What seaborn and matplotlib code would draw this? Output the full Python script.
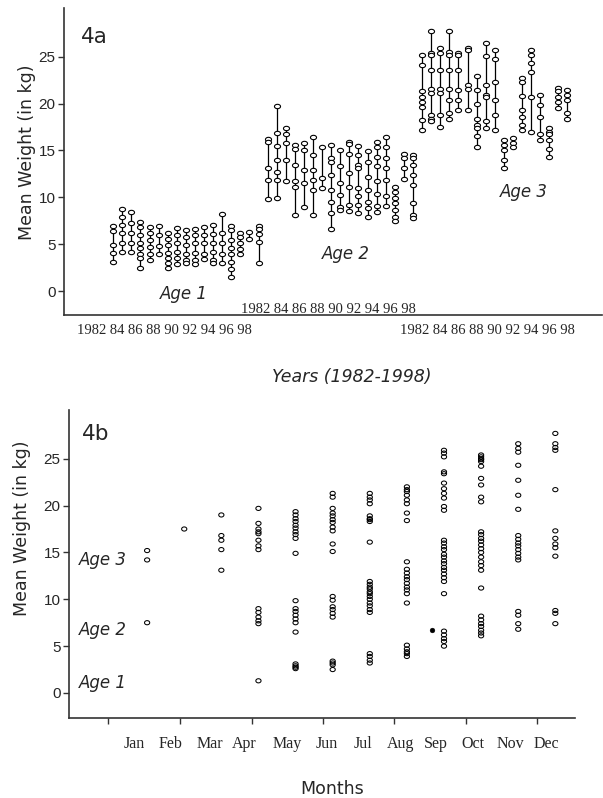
import numpy as np
import pandas as pd
import matplotlib
matplotlib.use("Agg")
import matplotlib.pyplot as plt
import seaborn as sns
from matplotlib.path import Path

# ---------------- data: panel 4a (yearly sets of monthly mean weights) ----------------
years = list(range(1982, 1999))
year_label = "1982 84 86 88 90 92 94 96 98"

age1 = [
    [6.9, 6.4, 4.9, 4.1, 3.1],
    [8.8, 7.9, 7.0, 6.2, 5.1, 4.2],
    [8.4, 7.3, 6.2, 5.1, 4.2],
    [7.4, 6.8, 6.0, 5.1, 4.6, 4.0, 3.5, 2.5],
    [6.8, 6.2, 5.4, 4.7, 4.0, 3.3],
    [6.9, 6.0, 4.8, 4.0],
    [6.2, 5.6, 4.9, 4.1, 3.5, 3.0, 2.5],
    [6.7, 6.0, 5.1, 4.2, 3.5, 2.9],
    [6.5, 5.8, 4.9, 4.0, 3.3, 2.95],
    [6.6, 6.0, 5.1, 4.1, 3.3, 2.9],
    [6.8, 6.0, 5.1, 4.0, 3.4],
    [7.0, 6.1, 5.1, 4.2, 3.3, 2.95],
    [8.2, 6.2, 5.1, 4.0, 3.0],
    [6.9, 6.5, 5.4, 4.6, 4.0, 3.1, 2.4, 1.5],
    [6.2, 5.8, 5.1, 4.5, 3.95],
    [6.3, 5.5],
    [6.9, 6.6, 6.1, 5.2, 3.0],
]
age2 = [
    [16.2, 15.9, 13.1, 11.8, 9.8],
    [19.7, 16.9, 15.5, 14.0, 12.7, 11.8, 9.9],
    [17.4, 16.8, 15.8, 14.0, 11.7],
    [15.6, 15.2, 13.4, 11.7, 11.1, 8.1],
    [15.8, 15.0, 12.9, 11.5, 9.0],
    [16.4, 14.5, 12.9, 11.8, 10.8, 8.1],
    [15.4, 12.1, 11.0],
    [15.6, 14.2, 13.8, 12.4, 10.8, 9.5, 8.3, 6.6],
    [15.1, 13.3, 11.5, 10.2, 9.0, 8.6],
    [15.9, 15.7, 14.6, 12.6, 11.1, 9.2, 8.5],
    [15.5, 14.5, 13.4, 13.1, 11.0, 10.1, 9.2, 8.3],
    [14.9, 13.8, 12.2, 10.8, 9.5, 8.9, 7.9],
    [15.9, 15.4, 14.3, 13.3, 11.7, 10.4, 9.1, 8.4],
    [16.4, 15.4, 14.2, 13.1, 11.8, 10.1, 9.1],
    [11.1, 10.6, 9.9, 9.4, 8.6, 7.9, 7.5],
    [14.6, 14.2, 13.1, 12.0],
    [14.5, 14.2, 13.4, 12.4, 11.3, 9.4, 8.1, 7.8],
]
age3 = [
    [25.2, 24.1, 21.3, 20.7, 20.2, 19.6, 18.2, 17.2],
    [27.7, 25.4, 25.2, 23.6, 21.6, 21.1, 18.8, 18.4, 18.1],
    [25.9, 25.4, 23.6, 21.6, 21.1, 18.8, 17.5],
    [27.7, 25.5, 25.2, 23.6, 21.6, 20.4, 19.0, 18.4],
    [25.4, 25.2, 23.6, 21.5, 20.4, 19.3],
    [25.9, 25.7, 22.0, 21.6, 19.3],
    [22.9, 21.5, 20.0, 18.4, 17.7, 17.4, 16.5, 15.4],
    [26.5, 25.1, 22.0, 20.9, 20.7, 18.1, 17.4],
    [25.7, 24.8, 22.3, 20.4, 18.8, 17.2],
    [16.1, 15.6, 15.0, 14.0, 13.1],
    [16.3, 15.8, 15.4],
    [22.7, 22.3, 20.8, 19.3, 18.6, 17.7, 17.2],
    [25.7, 25.2, 24.3, 23.4, 20.7, 17.0],
    [20.9, 19.9, 18.6, 16.8, 16.1],
    [17.4, 17.0, 16.8, 16.1, 15.2, 14.3],
    [21.7, 21.3, 20.7, 20.2, 19.5],
    [21.5, 20.9, 20.4, 19.0, 18.4],
]

# ---------------- data: panel 4b (monthly mean weights) ----------------
months = ["Jan", "Feb", "Mar", "Apr", "May", "Jun",
          "Jul", "Aug", "Sep", "Oct", "Nov", "Dec"]
w_jan = [15.2, 14.2, 7.5]
w_feb = [17.5]
w_mar = [19.0, 16.8, 16.3, 15.3, 13.1]
w_apr = [19.7, 18.1, 17.5, 17.2, 17.0, 16.3, 15.7, 15.3,
         9.0, 8.6, 8.1, 7.7, 7.4, 1.3]
w_may = [19.35, 19.0, 18.6, 18.3, 17.9, 17.6, 17.2, 16.9, 16.5, 14.9,
         9.85, 9.0, 8.7, 8.3, 7.9, 7.5, 6.5, 3.1, 2.9, 2.75, 2.6]
w_jun = [21.3, 20.9, 19.7, 19.2, 18.9, 18.5, 18.2, 17.7, 17.3, 15.9, 15.1,
         10.3, 9.9, 9.2, 8.9, 8.5, 8.1, 3.4, 3.2, 3.0, 2.5]
w_jul = [21.3, 20.9, 20.6, 20.2, 18.9, 18.6, 18.5, 18.3, 16.1,
         11.9, 11.6, 11.3, 11.1, 10.8, 10.6, 10.3, 10.0, 9.6, 9.3, 8.9, 8.6,
         4.2, 3.9, 3.5, 3.2]
w_aug = [22.0, 21.7, 21.5, 21.1, 20.6, 20.2, 19.2, 18.4,
         14.0, 13.2, 12.8, 12.4, 12.1, 11.7, 11.3, 11.0, 10.6, 9.6,
         5.1, 4.7, 4.4, 4.2, 3.9]
w_sep = [25.9, 25.6, 25.2, 23.6, 23.4, 22.4, 21.8, 21.3, 20.8, 19.9, 19.5,
         16.3, 16.0, 15.6, 15.3, 14.8, 14.5, 14.1, 13.8, 13.4, 13.1, 12.7,
         12.3, 11.9, 10.6, 6.6, 6.2, 5.8, 5.5, 5.0]
w_oct = [25.4, 25.2, 25.0, 24.9, 24.7, 24.2, 22.9, 22.2, 20.9, 20.4,
         17.2, 16.9, 16.5, 16.2, 15.8, 15.4, 15.0, 14.5, 14.0, 13.6, 13.1,
         11.2, 8.2, 7.8, 7.4, 7.1, 6.7, 6.4, 6.1]
w_nov = [26.6, 26.1, 25.7, 24.3, 22.7, 21.1, 19.6,
         16.8, 16.4, 16.0, 15.7, 15.3, 14.9, 14.5, 14.2,
         8.7, 8.3, 7.4, 6.8]
w_dec = [27.7, 26.6, 26.2, 25.9, 21.7, 17.3, 16.5, 15.9, 15.5, 14.6,
         8.8, 8.5, 7.4]
monthly = [w_jan, w_feb, w_mar, w_apr, w_may, w_jun,
           w_jul, w_aug, w_sep, w_oct, w_nov, w_dec]
extra_month = [8.68]      # isolated filled point just left of Sep
extra_weight = [6.7]

# ---------------- tidy frames ----------------
rows = []
for a, series in enumerate([age1, age2, age3]):
    for i, (yr, vals) in enumerate(zip(years, series)):
        for v in vals:
            rows.append({"age": a + 1, "year": yr, "pos": a * 17 + i, "w": v})
df_a = pd.DataFrame(rows)
rng = df_a.groupby("pos")["w"].agg(["min", "max"]).reset_index()

rows = []
for m, vals in enumerate(monthly, start=1):
    for v in vals:
        rows.append({"month": m, "w": v})
df_b = pd.DataFrame(rows)

# ---------------- style ----------------
sns.set_theme(style="ticks")
plt.rcParams["font.family"] = ["DejaVu Sans"]

t = np.linspace(0, 2 * np.pi, 41)
ell = Path(np.column_stack([np.cos(t), 0.72 * np.sin(t)]), closed=True)
ell_b = Path(np.column_stack([np.cos(t), 0.8 * np.sin(t)]), closed=True)

W, H = 603, 798
fig = plt.figure(figsize=(W / 100, H / 100), dpi=100)
fig.patch.set_facecolor("white")

def ax_rect(l, t_, r, b):
    return [l / W, 1 - b / H, (r - l) / W, (b - t_) / H]

spine_col = "#333333"
tick_font = dict(family=["Liberation Sans", "DejaVu Sans"], size=11)

# ---------------- panel 4a ----------------
ax1 = fig.add_axes(ax_rect(64, 8, 602, 315))
ax1.vlines(rng["pos"], rng["min"], rng["max"], color="black", lw=0.9, zorder=2)
sns.scatterplot(data=df_a, x="pos", y="w", ax=ax1, marker=ell, s=19,
                facecolor="white", edgecolor="black", linewidth=0.8,
                zorder=3, legend=False)
ax1.set_xlim(-5.41, 53.8)
ax1.set_ylim(-2.56, 30.2)
ax1.set_yticks([0, 5, 10, 15, 20, 25])
ax1.set_xticks([])
ax1.set_xlabel("")
ax1.set_ylabel("")

# ---------------- panel 4b ----------------
ax2 = fig.add_axes(ax_rect(69, 410, 575, 718))
sns.scatterplot(data=df_b, x="month", y="w", ax=ax2, marker=ell_b, s=14,
                facecolor="none", edgecolor="black", linewidth=0.75,
                zorder=3, legend=False)
sns.scatterplot(x=extra_month, y=extra_weight, ax=ax2, marker="o", s=12,
                color="black", edgecolor="black", zorder=3, legend=False)
ax2.set_xlim(-1.105, 12.53)
ax2.set_ylim(-2.67, 30.2)
ax2.set_yticks([0, 5, 10, 15, 20, 25])
ax2.set_xticks([-0.05, 1.89, 3.83, 5.74, 7.65, 9.6, 11.5])
ax2.set_xticklabels([])
label_pos = [0.65, 1.64, 2.70, 3.61, 4.77, 5.85, 6.82, 7.82, 8.79, 9.78, 10.78, 11.75]
ax2.set_xticks(label_pos, minor=True)
ax2.set_xticklabels(months, minor=True,
                    fontdict=dict(family=["Liberation Serif", "DejaVu Serif"], size=11.5))
ax2.tick_params(axis="x", which="minor", length=0, pad=13)
ax2.set_xlabel("")
ax2.set_ylabel("")

for ax in (ax1, ax2):
    sns.despine(ax=ax)
    for s in ("left", "bottom"):
        ax.spines[s].set_color(spine_col)
        ax.spines[s].set_linewidth(1.2)
    ax.tick_params(axis="both", which="major", direction="out", length=4,
                   width=1.0, color=spine_col, pad=2)
    for lab in ax.get_yticklabels():
        lab.set_fontfamily(tick_font["family"])
        lab.set_fontsize(tick_font["size"])
    ax.set_facecolor("white")
    ax.grid(False)

# ---------------- texts ----------------
def ftext(x, y, s, **kw):
    fig.text(x / W, 1 - y / H, s, **kw)

comic = ["DejaVu Sans"]
ftext(81, 37, "4a", fontsize=15.5, family=comic, ha="left", va="center")
ftext(82, 434, "4b", fontsize=15.5, family=comic, ha="left", va="center")
ftext(27, 152, "Mean Weight (in kg)", fontsize=12.5, family=comic,
      rotation=90, ha="center", va="center")
ftext(22, 528, "Mean Weight (in kg)", fontsize=12.5, family=comic,
      rotation=90, ha="center", va="center")
ftext(352, 377, "Years (1982-1998)", fontsize=12.5, family=comic,
      style="italic", ha="center", va="center")
ftext(332, 789, "Months", fontsize=12.5, family=comic, ha="center", va="center")

serif = ["Liberation Serif", "DejaVu Serif"]
ftext(164, 331, year_label, fontsize=10.5, family=serif, ha="center", va="center")
ftext(328, 309, year_label, fontsize=10.5, family=serif, ha="center", va="center")
ftext(487, 331, year_label, fontsize=10.5, family=serif, ha="center", va="center")

for (x, y, s) in [(184, 294, "Age 1"), (346, 254, "Age 2"), (524, 192, "Age 3")]:
    ftext(x, y, s, fontsize=12, family=comic, style="italic", ha="center", va="center")
for (x, y, s) in [(79, 560, "Age 3"), (79, 630, "Age 2"), (79, 683, "Age 1")]:
    ftext(x, y, s, fontsize=12, family=comic, style="italic", ha="left", va="center")

fig.savefig("out.png", dpi=100, facecolor="white")
